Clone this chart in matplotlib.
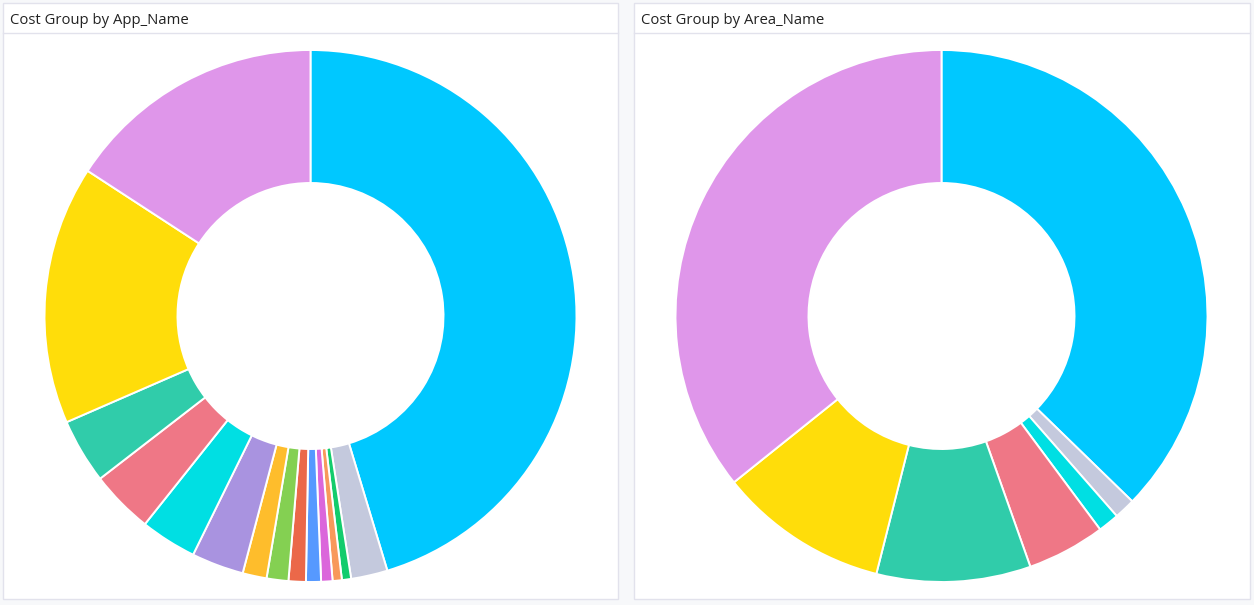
import matplotlib
matplotlib.use("Agg")
import matplotlib.pyplot as plt
from matplotlib.patches import Rectangle
from matplotlib.lines import Line2D

# Cost share per slice (percent), clockwise from 12 o'clock
app_values = [45.33, 2.22, 0.56, 0.56, 0.69, 0.91, 1.05, 1.32, 1.46,
              3.17, 3.42, 3.83, 3.94, 15.72, 15.81]
app_colors = ["#00C8FF", "#C4C9DD", "#12CC6C", "#F8995B", "#DB66DB",
              "#5699FF", "#EB6849", "#84D052", "#FEBD2C", "#A993E0",
              "#00DFE3", "#EF7786", "#30CCAA", "#FFDD0A", "#DF96EA"]

area_values = [37.27, 1.28, 1.28, 4.75, 9.36, 10.31, 35.75]
area_colors = ["#00C8FF", "#C4C9DD", "#00DFE3", "#EF7786", "#30CCAA",
               "#FFDD0A", "#DF96EA"]

titles = ["Cost Group by App_Name", "Cost Group by Area_Name"]

W, H = 1254, 605
fig = plt.figure(figsize=(W / 100, H / 100), dpi=100)
fig.patch.set_facecolor("#F7F8FA")

border = "#E2E2EC"
panels = [(3, 618), (634, 1250)]
centers = [310.5, 941.5]
cy, R = 316, 266

for (x0, x1), title in zip(panels, titles):
    fig.patches.append(Rectangle((x0 / W, 1 - 599 / H), (x1 - x0) / W,
                                 (599 - 3) / H, transform=fig.transFigure,
                                 fc="white", ec=border, lw=1.0, zorder=0))
    fig.lines.append(Line2D([x0 / W, x1 / W], [1 - 33 / H, 1 - 33 / H],
                            transform=fig.transFigure, color=border, lw=1.0))
    fig.text((x0 + 7) / W, 1 - 20 / H, title, fontsize=10.7,
             family="Open Sans", color="#222222", va="center", ha="left")

for cx, vals, cols in zip(centers, [app_values, area_values],
                          [app_colors, area_colors]):
    ax = fig.add_axes([(cx - R) / W, (H - cy - R) / H, 2 * R / W, 2 * R / H])
    ax.set_zorder(3)
    ax.pie(vals, colors=cols, startangle=90, counterclock=False, radius=1.0,
           wedgeprops=dict(width=0.5, edgecolor="white", linewidth=1.4))
    ax.set_xlim(-1, 1)
    ax.set_ylim(-1, 1)
    ax.set_aspect("equal")
    ax.axis("off")

fig.savefig("out.png", dpi=100, facecolor=fig.get_facecolor())
